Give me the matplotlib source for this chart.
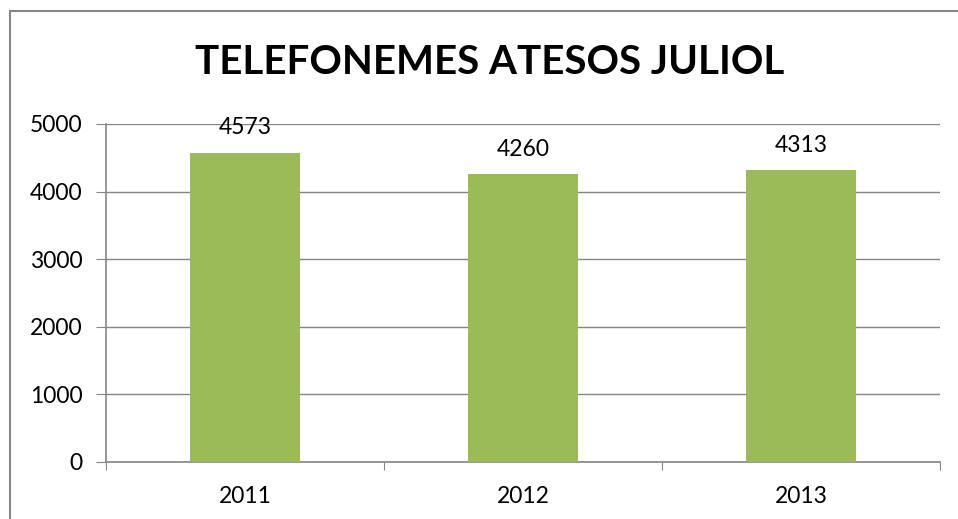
import matplotlib
matplotlib.use("Agg")
import matplotlib.pyplot as plt
from matplotlib.patches import Rectangle
import numpy as np

# data
years = ["2011", "2012", "2013"]
calls = [4573, 4260, 4313]
title = "TELEFONEMES ATESOS JULIOL"

plt.rcParams['font.family'] = ['Lato', 'DejaVu Sans']

W, H = 958, 519
fig = plt.figure(figsize=(W / 100, H / 100), dpi=100)
ax = fig.add_axes([106 / W, 1 - 462 / H, (940 - 106) / W, (462 - 124) / H])

grey = '#868686'
x = np.arange(len(years))
bars = ax.bar(x, calls, width=0.395, color='#9BBB59', zorder=3)

# value labels above bars
for xi, v in zip(x, calls):
    ax.annotate(str(v), (xi, v), xytext=(0, 18), textcoords='offset points',
                ha='center', va='center', fontsize=16.5, color='black')

ax.set_xlim(-0.5, len(years) - 0.5)
ax.set_ylim(0, 5000)
ax.set_yticks(range(0, 5001, 1000))
ax.set_yticklabels([str(t) for t in range(0, 5001, 1000)], fontsize=16.5)
ax.yaxis.grid(True, color=grey, linewidth=1, zorder=0)

# category ticks sit on the boundaries, labels in the middle
ax.set_xticks(np.arange(-0.5, len(years), 1.0))
ax.set_xticklabels([])
ax.set_xticks(x, minor=True)
ax.set_xticklabels(years, minor=True, fontsize=16.5)
ax.tick_params(axis='x', which='minor', length=0, pad=17)
ax.tick_params(axis='x', which='major', length=6, color=grey, direction='out')
ax.tick_params(axis='y', length=7, color=grey, direction='out', pad=10)

for s in ['top', 'right']:
    ax.spines[s].set_visible(False)
for s in ['left', 'bottom']:
    ax.spines[s].set_color(grey)
    ax.spines[s].set_linewidth(1.2)

fig.text(490 / W, 1 - 62 / H, title, ha='center', va='center',
         fontsize=29, fontweight='bold')

# outer chart border (cut off on the right and bottom)
fig.add_artist(Rectangle((10 / W, -0.1), 1.2, 1 - 11 / H + 0.1,
                         transform=fig.transFigure, fill=False,
                         edgecolor=grey, linewidth=1.5))

fig.savefig('out.png', dpi=100)
